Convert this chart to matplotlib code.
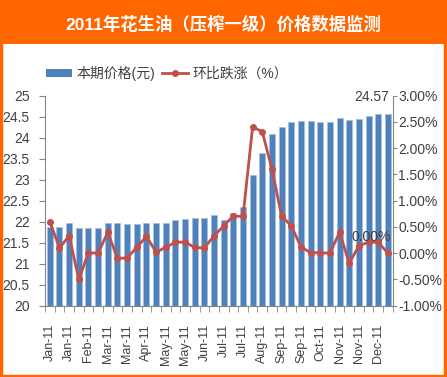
import matplotlib
matplotlib.use("Agg")
import matplotlib.pyplot as plt
from matplotlib.patches import Rectangle
from matplotlib.lines import Line2D
from matplotlib.patches import Patch
import numpy as np

plt.rcParams['font.family'] = ['Liberation Sans', 'Noto Sans CJK SC', 'DejaVu Sans']

title = "2011年花生油（压榨一级）价格数据监测"
bar_label = "本期价格(元)"
line_label = "环比跌涨（%）"

tick_labels = ["Jan-11", "Jan-11", "Feb-11", "Mar-11", "Mar-11", "Apr-11",
               "May-11", "May-11", "Jun-11", "Jul-11", "Jul-11", "Aug-11",
               "Sep-11", "Sep-11", "Oct-11", "Nov-11", "Nov-11", "Dec-11"]

prices = [21.88, 21.88, 21.96, 21.85, 21.85, 21.85, 21.98, 21.96, 21.94, 21.94,
          21.98, 21.98, 21.98, 22.04, 22.06, 22.10, 22.10, 22.17, 22.04, 22.20,
          22.34, 23.12, 23.63, 24.10, 24.26, 24.37, 24.40, 24.40, 24.37, 24.37,
          24.48, 24.42, 24.45, 24.52, 24.57, 24.57]

changes = [0.60, 0.10, 0.33, -0.50, 0.01, 0.00, 0.40, -0.10, -0.09, 0.11,
           0.32, 0.02, 0.11, 0.21, 0.21, 0.11, 0.10, 0.33, 0.52, 0.71,
           0.70, 2.41, 2.31, 1.60, 0.71, 0.52, 0.12, 0.01, 0.01, 0.00,
           0.40, -0.19, 0.14, 0.21, 0.21, 0.00]

BLUE = "#4F81BD"
RED = "#C0504D"
ORANGE = "#FF6600"
TXT = "#404040"
AXC = "#868686"

W, H = 447, 377
fig = plt.figure(figsize=(W / 100, H / 100), dpi=100)
fig.patch.set_facecolor("white")

# title band
fig.add_artist(Rectangle((0, 1 - 44 / H), 1, 44 / H, transform=fig.transFigure,
                         facecolor=ORANGE, edgecolor="none", zorder=0))
fig.add_artist(Rectangle((1 / W, 1 / H), 1 - 3 / W, 1 - 2 / H, transform=fig.transFigure,
                         facecolor="none", edgecolor=ORANGE, linewidth=2.5, zorder=5))
fig.text(0.5, 1 - 24 / H, title, ha="center", va="center", color="white",
         fontsize=12.5, fontweight="bold")

ax = fig.add_axes([45 / W, 1 - 305.7 / H, (392.7 - 45) / W, (305.7 - 95.7) / H])
x = np.arange(len(prices))
ax.bar(x, prices, width=0.62, color=BLUE, edgecolor="#A7C0DE", linewidth=0.5, zorder=2)
ax.set_xlim(-0.5, len(prices) - 0.5)
ax.set_ylim(20, 25)
ax.set_yticks(np.arange(20, 25.01, 0.5))
ax.set_yticklabels([f"{v:g}" for v in np.arange(20, 25.01, 0.5)])
ax.set_xticks(x[::2])
ax.set_xticklabels(tick_labels, rotation=90)
ax.set_xticks(np.arange(-0.5, len(prices), 1), minor=True)
ax.tick_params(axis="x", which="major", length=0, pad=13, labelsize=9, colors=TXT)
ax.tick_params(axis="x", which="minor", length=4, color=AXC, direction="out")
ax.tick_params(axis="y", length=4, color=AXC, labelsize=10, labelcolor=TXT, pad=7)
for s in ["top", "right"]:
    ax.spines[s].set_visible(False)
for s in ["left", "bottom"]:
    ax.spines[s].set_color(AXC)

ax2 = ax.twinx()
ax2.plot(x, changes, color=RED, linewidth=2, marker="o", markersize=4, zorder=3)
ax2.set_ylim(-1, 3)
ticks2 = np.arange(-1, 3.01, 0.5)
ax2.set_yticks(ticks2)
ax2.set_yticklabels([f"{v:.2f}%" for v in ticks2])
ax2.tick_params(axis="y", length=3, color=AXC, labelsize=10, labelcolor=TXT, pad=1)
for s in ["top", "left", "bottom"]:
    ax2.spines[s].set_visible(False)
ax2.spines["right"].set_color(AXC)

ax.annotate(f"{prices[-1]:.2f}", xy=(x[-1], prices[-1]), xytext=(-12, 12),
            textcoords="offset points", ha="center", va="center",
            fontsize=10, color=TXT)
ax2.annotate(f"{changes[-1]:.2f}%", xy=(x[-1], changes[-1]), xytext=(-12, 12),
             textcoords="offset points", ha="center", va="center",
             fontsize=10, color=TXT, zorder=4)

handles = [Patch(facecolor=BLUE, edgecolor="none"),
           Line2D([0], [0], color=RED, linewidth=2, marker="o", markersize=4)]
fig.legend(handles, [bar_label, line_label], loc="center left",
           bbox_to_anchor=(33 / W, 1 - 73 / H), ncol=2, frameon=False,
           fontsize=10, handlelength=1.9, handleheight=0.5, handletextpad=0.3,
           columnspacing=0.5, labelcolor=TXT)

fig.savefig("out.png", dpi=100)
